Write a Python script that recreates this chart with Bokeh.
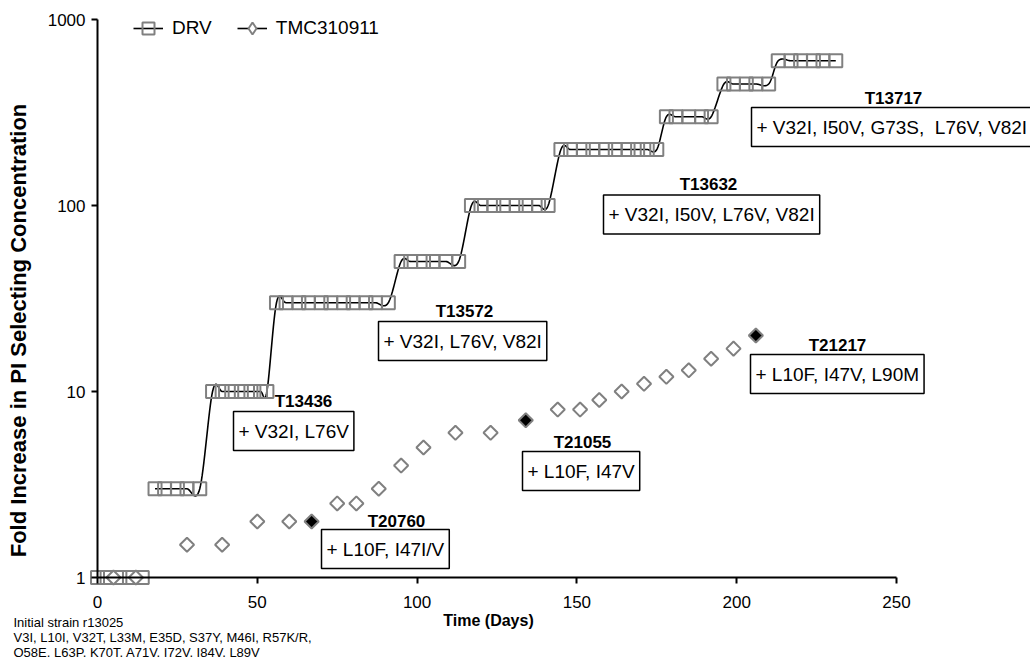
import numpy as np
from bokeh.plotting import figure
from bokeh.models import (Range1d, Label, Legend, LegendItem, FixedTicker, ColumnDataSource)
from bokeh.embed import file_html
from bokeh.resources import INLINE

# ---------------- data ----------------
drv_days = [0, 3, 7, 10, 14,
            18, 21, 25, 28, 32,
            36, 39, 42, 45, 48, 51, 53,
            56, 59, 63, 66, 70, 73, 77, 80, 84, 87, 91,
            95, 98, 102, 105, 109, 113,
            117, 120, 124, 127, 131, 134, 138, 141,
            145, 148, 152, 155, 159, 162, 166, 169, 172, 175,
            178, 181, 185, 189, 192,
            196, 199, 203, 206, 210,
            213, 217, 220, 224, 227, 231]
drv_fold = [1, 1, 1, 1, 1,
            3, 3, 3, 3, 3,
            10, 10, 10, 10, 10, 10, 10,
            30, 30, 30, 30, 30, 30, 30, 30, 30, 30, 30,
            50, 50, 50, 50, 50, 50,
            100, 100, 100, 100, 100, 100, 100, 100,
            200, 200, 200, 200, 200, 200, 200, 200, 200, 200,
            300, 300, 300, 300, 300,
            450, 450, 450, 450, 450,
            600, 600, 600, 600, 600, 600]

tmc_days = [5, 12, 28, 39, 50, 60, 75, 81, 88, 95, 102, 112, 123,
            144, 151, 157, 164, 171, 178, 185, 192, 199]
tmc_fold = [1, 1, 1.5, 1.5, 2, 2, 2.5, 2.5, 3, 4, 5, 6, 6,
            8, 8, 9, 10, 11, 12, 13, 15, 17]

# sequenced TMC310911 isolates (filled diamonds)
iso_days = [67, 134, 206]
iso_fold = [2, 7, 20]

x_ticks = [0, 50, 100, 150, 200, 250]
y_ticks = [1, 10, 100, 1000]

clone_names = ["T13436", "T13572", "T13632", "T13717", "T20760", "T21055", "T21217"]
clone_muts = ["+ V32I, L76V",
              "+ V32I, L76V, V82I",
              "+ V32I, I50V, L76V, V82I",
              "+ V32I, I50V, G73S,\u00a0 L76V, V82I",
              "+ L10F, I47I/V",
              "+ L10F, I47V",
              "+ L10F, I47V, L90M"]

strain_lines = ["Initial strain r13025",
                "V3I, L10I, V32T, L33M, E35D, S37Y, M46I, R57K/R,",
                "Q58E, L63P, K70T, A71V, I72V, I84V, L89V"]

x_title = "Time (Days)"
y_title = "Fold Increase in PI Selecting Concentration"

# ---------------- layout helpers ----------------
W, H = 1030, 657
AL, AR, AT, AB = 97, 896, 19, 577      # where the axes sit on the canvas
XMIN, XMAX = 0, 250
YMIN, YMAX = 1, 1000


def dx(px):
    return XMIN + (px - AL) / (AR - AL) * (XMAX - XMIN)


def dy(py):
    return 10 ** (np.log10(YMIN) + (AB - py) / (AB - AT) * (np.log10(YMAX) - np.log10(YMIN)))


def smooth(xs, ys, n=16):
    P = np.column_stack([np.asarray(xs, float), np.log10(np.asarray(ys, float))])
    P = np.vstack([P[0], P, P[-1]])
    out = []
    t = np.linspace(0, 1, n, endpoint=False)[:, None]
    for i in range(1, len(P) - 2):
        p0, p1, p2, p3 = P[i - 1], P[i], P[i + 1], P[i + 2]
        c1 = p1 + (p2 - p0) / 6.0
        c2 = p2 - (p3 - p1) / 6.0
        seg = (1 - t) ** 3 * p1 + 3 * (1 - t) ** 2 * t * c1 + 3 * (1 - t) * t ** 2 * c2 + t ** 3 * p2
        out.append(seg)
    out.append(P[-2][None, :])
    S = np.vstack(out)
    return S[:, 0], 10 ** S[:, 1]


FONT = "Liberation Sans"
GRAY = "#808080"

p = figure(width=W, height=H, output_backend="svg", toolbar_location=None,
           x_range=Range1d(dx(0), dx(W)), y_range=Range1d(dy(H), dy(0)),
           y_axis_type="log",
           min_border_left=0, min_border_right=0, min_border_top=0, min_border_bottom=0)
p.outline_line_color = None
p.xgrid.visible = False
p.ygrid.visible = False
p.background_fill_color = "white"

for ax in (p.xaxis[0], p.yaxis[0]):
    ax.axis_line_width = 2
    ax.axis_line_color = "black"
    ax.major_tick_line_width = 2
    ax.major_tick_line_color = "black"
    ax.major_tick_out = 6
    ax.major_tick_in = 0
    ax.minor_tick_line_color = None
    ax.major_label_text_font = FONT
    ax.major_label_text_font_size = "17px"
    ax.major_label_text_color = "black"

p.xaxis.ticker = FixedTicker(ticks=x_ticks)
p.yaxis.ticker = FixedTicker(ticks=y_ticks)
p.yaxis.major_label_overrides = {1: "1", 10: "10", 100: "100", 1000: "1000"}
p.xaxis.fixed_location = YMIN
p.yaxis.fixed_location = XMIN
p.xaxis.bounds = (XMIN, XMAX)
p.yaxis.bounds = (YMIN, YMAX)
p.xaxis.major_label_standoff = 12
p.yaxis.major_label_standoff = 6

# axis titles
p.add_layout(Label(x=dx(488), y=dy(620), text=x_title, text_align="center", text_baseline="middle",
                   text_font=FONT, text_font_style="bold", text_font_size="16px", text_color="black"))
p.add_layout(Label(x=dx(18), y=dy(330), text=y_title, angle=np.pi / 2, text_align="center",
                   text_baseline="middle", text_font=FONT, text_font_style="bold",
                   text_font_size="22px", text_color="black"))

# DRV smoothed line (from the second level on)
start = drv_fold.index(3)
sx, sy = smooth(drv_days[start:], drv_fold[start:])
drv_line = p.line(sx, sy, line_color="black", line_width=1.6)
drv_pts = p.scatter(drv_days, drv_fold, marker="square", size=13,
                    line_color=GRAY, line_width=2, fill_alpha=0)

# TMC310911 diamonds; a tiny diamond marker underneath serves as the legend symbol
tmc_src = ColumnDataSource(dict(x=tmc_days, y=tmc_fold))
tmc_leg = p.scatter("x", "y", source=tmc_src, marker="diamond", size=1,
                    line_color=GRAY, line_width=2, fill_color="white")
tmc_pts = p.scatter("x", "y", source=tmc_src, marker="square", angle=np.pi / 4, size=10,
                    line_color=GRAY, line_width=2, fill_color="white")
p.scatter(iso_days, iso_fold, marker="square", angle=np.pi / 4, size=10,
          line_color=GRAY, line_width=2, fill_color="black")

legend = Legend(items=[LegendItem(label="DRV", renderers=[drv_line, drv_pts]),
                       LegendItem(label="TMC310911", renderers=[drv_line, tmc_leg])],
                orientation="horizontal", location=(133, H - 43),
                padding=0, margin=0, spacing=25, label_standoff=9,
                glyph_width=30, glyph_height=30,
                label_text_font=FONT, label_text_font_size="19px", label_text_color="black",
                border_line_color=None, background_fill_alpha=0)
p.add_layout(legend)

# clone annotations: title centre (px) and box left / middle (px)
title_pos = [(303, 401), (464, 311), (708, 184), (893, 98), (396, 521), (582, 441.5), (837, 345)]
box_pos = [(233, 430.5), (378, 340.5), (603, 214), (751, 126.5), (321, 548.5), (522, 470.5), (750, 373.5)]

for name, mut, (tx, ty), (bx, by) in zip(clone_names, clone_muts, title_pos, box_pos):
    p.add_layout(Label(x=dx(tx), y=dy(ty), text=name, text_align="center", text_baseline="middle",
                       text_font=FONT, text_font_style="bold", text_font_size="17px",
                       text_color="black"))
    p.add_layout(Label(x=dx(bx), y=dy(by), text=mut, text_align="left", text_baseline="middle",
                       text_font=FONT, text_font_size="19px", text_color="black",
                       background_fill_color="white", border_line_color="black",
                       border_line_width=1.5, padding=dict(x=5, y=9)))

for i, line in enumerate(strain_lines):
    p.add_layout(Label(x=dx(13), y=dy(622 + 15 * i), text=line, text_align="left",
                       text_baseline="middle", text_font=FONT, text_font_size="13px",
                       text_color="black"))

open("out.html", "w").write(file_html(p, INLINE))
